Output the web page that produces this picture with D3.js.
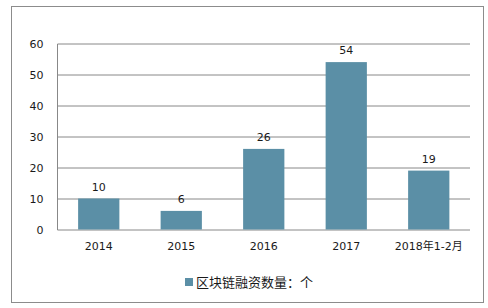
<!DOCTYPE html>
<html>
<head>
<meta charset="utf-8">
<script src="https://cdn.jsdelivr.net/npm/d3@7"></script>
<style>
  body { margin: 0; background: #fff; }
  svg text { font-family: "DejaVu Sans", "Noto Sans CJK SC", sans-serif; fill: #1a1a1a; }
</style>
</head>
<body>
<div id="chart"></div>
<script>
// Data
const categories = ["2014", "2015", "2016", "2017", "2018年1-2月"];
const counts = [10, 6, 26, 54, 19];
const yTicks = [0, 10, 20, 30, 40, 50, 60];
const seriesName = "区块链融资数量：个";

const WIDTH = 488;
const HEIGHT = 308;
const MARGIN = { left: 57.5, right: 18, top: 43.5, bottom: 78.5 };
const BAR_COLOR = "#5b8fa6";
const GRID_COLOR = "#888888";

const svg = d3.select("#chart")
  .append("svg")
  .attr("width", WIDTH)
  .attr("height", HEIGHT);

// Outer frame
svg.append("rect")
  .attr("x", 11.5)
  .attr("y", 6.5)
  .attr("width", 472)
  .attr("height", 296)
  .attr("fill", "none")
  .attr("stroke", "#8c8c8c");

const plotW = WIDTH - MARGIN.left - MARGIN.right;
const plotH = HEIGHT - MARGIN.top - MARGIN.bottom;

const g = svg.append("g")
  .attr("transform", "translate(" + MARGIN.left + "," + MARGIN.top + ")");

const x = d3.scaleBand()
  .domain(categories)
  .range([0, plotW])
  .paddingInner(0.5)
  .paddingOuter(0.25);

const y = d3.scaleLinear()
  .domain([0, 60])
  .range([plotH, 0]);

// Gridlines
g.append("g")
  .selectAll("line")
  .data(yTicks)
  .enter()
  .append("line")
  .attr("x1", 0)
  .attr("x2", plotW)
  .attr("y1", d => Math.round(y(d)) + 0.5)
  .attr("y2", d => Math.round(y(d)) + 0.5)
  .attr("stroke", GRID_COLOR)
  .attr("stroke-width", 1);

// Y axis line
g.append("line")
  .attr("x1", 0).attr("x2", 0)
  .attr("y1", Math.round(y(60)) + 0.5)
  .attr("y2", Math.round(y(0)) + 0.5)
  .attr("stroke", GRID_COLOR);

// Y tick labels
g.append("g")
  .call(d3.axisLeft(y).tickValues(yTicks).tickSize(0).tickPadding(14))
  .call(a => a.select(".domain").remove())
  .selectAll("text")
  .style("font-size", "11px")
  .style("font-family", "\"DejaVu Sans\", sans-serif")
  .attr("fill", "#1a1a1a");

// Bars
g.selectAll(".bar")
  .data(categories)
  .enter()
  .append("rect")
  .attr("class", "bar")
  .attr("x", d => x(d))
  .attr("width", x.bandwidth())
  .attr("y", (d, i) => y(counts[i]))
  .attr("height", (d, i) => plotH - y(counts[i]))
  .attr("fill", BAR_COLOR);

// Value labels
g.selectAll(".value-label")
  .data(categories)
  .enter()
  .append("text")
  .attr("class", "value-label")
  .attr("x", d => x(d) + x.bandwidth() / 2)
  .attr("y", (d, i) => y(counts[i]) - 8)
  .attr("text-anchor", "middle")
  .style("font-size", "11px")
  .style("font-family", "\"DejaVu Sans\", sans-serif")
  .text((d, i) => counts[i]);

// X axis labels
g.append("g")
  .attr("transform", "translate(0," + plotH + ")")
  .call(d3.axisBottom(x).tickSize(0).tickPadding(13))
  .call(a => a.select(".domain").remove())
  .selectAll("text")
  .style("font-size", "11px")
  .style("font-family", "\"DejaVu Sans\", \"Noto Sans CJK SC\", sans-serif")
  .attr("fill", "#1a1a1a");

// Legend
const legend = svg.append("g")
  .attr("transform", "translate(185,278)");
legend.append("rect")
  .attr("x", 0)
  .attr("y", 0)
  .attr("width", 8)
  .attr("height", 8)
  .attr("fill", BAR_COLOR);
legend.append("text")
  .attr("x", 11)
  .attr("y", 8.5)
  .style("font-size", "13px")
  .style("font-family", "\"Noto Sans CJK SC\", sans-serif")
  .text(seriesName);
</script>
</body>
</html>
